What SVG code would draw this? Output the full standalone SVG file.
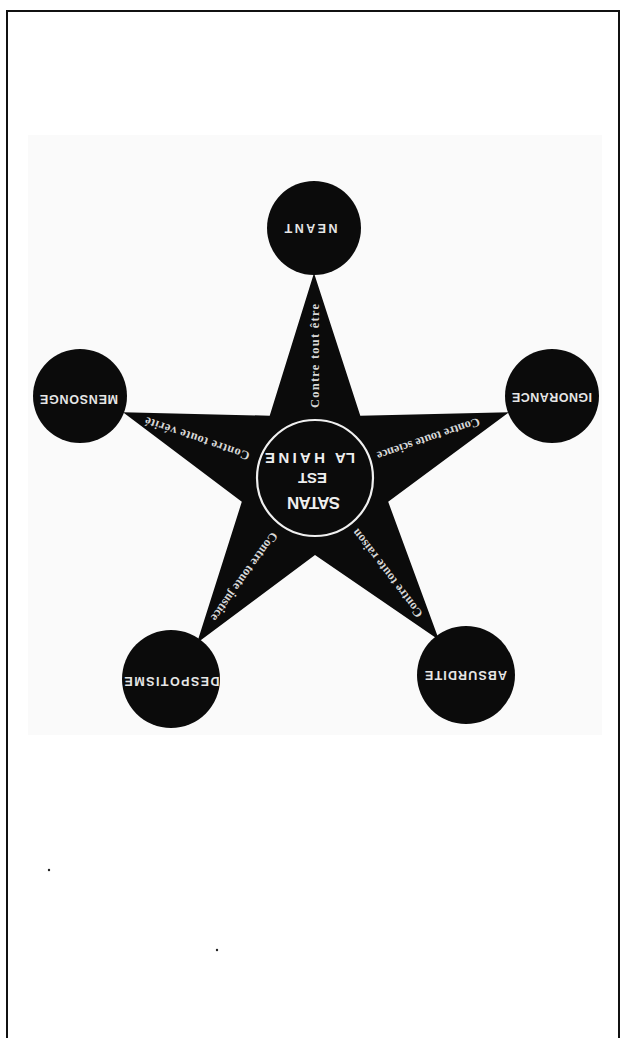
<svg xmlns="http://www.w3.org/2000/svg" width="621" height="1038" viewBox="0 0 621 1038">
<style>
.node{fill:#0b0b0b}
.lbl{font-family:"Liberation Sans",Arial,sans-serif;font-weight:bold;font-size:12.5px;fill:#e6e6e6;text-anchor:middle}
.ctr{font-family:"Liberation Sans",Arial,sans-serif;font-weight:bold;fill:#eeeeee;text-anchor:middle}
.arm{font-family:"Liberation Serif","Times New Roman",serif;font-size:12.5px;font-weight:bold;fill:#d8d8d8;text-anchor:middle}
</style>
<rect x="0" y="0" width="621" height="1038" fill="#ffffff"/>
<rect x="28" y="135" width="574" height="600" fill="#fafafa"/>
<path d="M7,1038 V11 H619 V1038" fill="none" stroke="#111" stroke-width="2"/>
<circle cx="49" cy="870" r="1.2" fill="#222"/>
<circle cx="217" cy="950" r="1.2" fill="#222"/>
<g id="star">
<polygon class="node" points="314,273 360.3,415.7 509,412.2 388.2,501.8 439,640 315,555 197,643 241.8,501.8 123,412.3 269.7,415.7"/>
<circle cx="315" cy="478" r="58" fill="#0b0b0b" stroke="#f0f0f0" stroke-width="2.2"/>
</g>
<g id="connectors">
<text class="arm" textLength="104" dy="0.35em" transform="translate(315,356) rotate(-90)">Contre tout être</text>
<text class="arm" textLength="108" dy="0.35em" transform="translate(428.5,439.2) rotate(161.1)">Contre toute science</text>
<text class="arm" textLength="110" dy="0.35em" transform="translate(197,439) rotate(199)">Contre toute vérité</text>
<text class="arm" textLength="106" dy="0.35em" transform="translate(244.5,577) rotate(125.5)">Contre toute justice</text>
<text class="arm" textLength="108" dy="0.35em" transform="translate(387,573.5) rotate(232.7)">Contre toute raison</text>
</g>
<g id="center">
<text class="ctr" font-size="17" x="313.5" y="508.5" textLength="53" transform="rotate(180 313.5 502.5)">SATAN</text>
<text class="ctr" font-size="15" x="312.5" y="484" textLength="29" transform="rotate(180 312.5 478.5)">EST</text>
<text class="ctr" font-size="15" x="295" y="464" textLength="60" transform="rotate(180 295 458.5)">HAINE</text>
<text class="ctr" font-size="15" x="345" y="464" textLength="20" transform="rotate(180 345 458.5)">LA</text>
</g>
<g id="neant">
<circle class="node" cx="314" cy="228" r="47"/>
<text class="lbl" x="311" y="232.5" textLength="53" transform="rotate(180 311 228)">NEANT</text>
</g>
<g id="mensonge">
<circle class="node" cx="80" cy="396" r="47"/>
<text class="lbl" x="79" y="403.5" textLength="78" transform="rotate(180 79 399)">MENSONGE</text>
</g>
<g id="ignorance">
<circle class="node" cx="552" cy="396" r="47"/>
<text class="lbl" x="552" y="401.5" textLength="80" transform="rotate(180 552 397)">IGNORANCE</text>
</g>
<g id="despotisme">
<circle class="node" cx="171" cy="679" r="49"/>
<text class="lbl" x="172" y="685.5" textLength="95" transform="rotate(180 172 681)">DESPOTISME</text>
</g>
<g id="absurdite">
<circle class="node" cx="466" cy="675" r="49"/>
<text class="lbl" x="466" y="679.5" textLength="82" transform="rotate(180 466 675)">ABSURDITE</text>
</g>
</svg>
